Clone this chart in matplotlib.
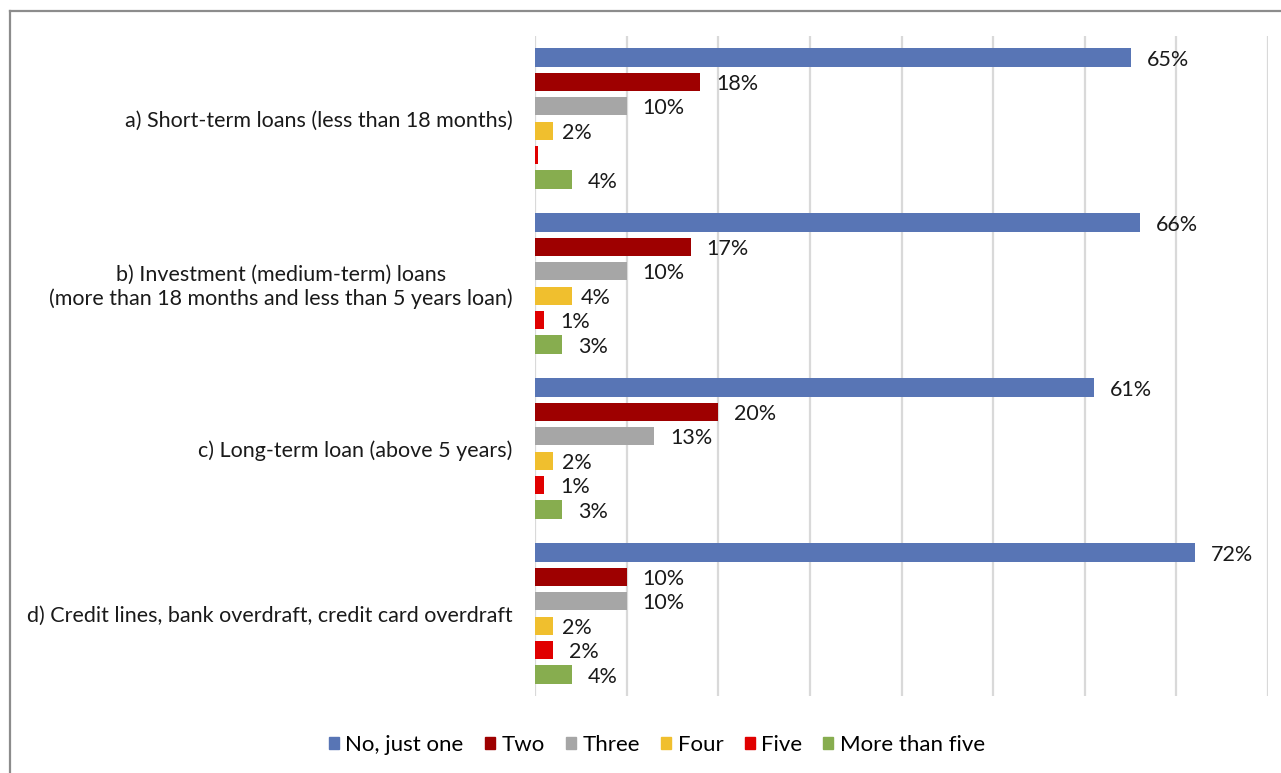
import matplotlib.pyplot as plt
from matplotlib.lines import Line2D
import numpy as np

plt.rcParams['font.family'] = ['Lato', 'DejaVu Sans']

categories = [
    'a) Short-term loans (less than 18 months)',
    'b) Investment (medium-term) loans\n(more than 18 months and less than 5 years loan)',
    'c) Long-term loan (above 5 years)',
    'd) Credit lines, bank overdraft, credit card overdraft',
]
series = ['No, just one', 'Two', 'Three', 'Four', 'Five', 'More than five']
colors = ['#5875B5', '#9E0000', '#A6A6A6', '#F0BF2E', '#E00000', '#87AD4F']

# percentages per series, one entry per category (a..d)
no_just_one = [65, 66, 61, 72]
two = [18, 17, 20, 10]
three = [10, 10, 13, 10]
four = [2, 4, 2, 2]
five = [0.3, 1, 1, 2]
more_than_five = [4, 3, 3, 4]
values = [no_just_one, two, three, four, five, more_than_five]

# label offsets in pixels (yellow labels sit closer to their bars)
label_pad = [16, 16, 16, 9, 16, 16]

fig = plt.figure(figsize=(12.81, 7.73), dpi=100)
ax = fig.add_axes([535 / 1281, 77 / 773, 733 / 1281, 660 / 773])

y = np.arange(len(categories))
slot = 0.148
bar_h = 0.111
for i, (name, vals, c) in enumerate(zip(series, values, colors)):
    pos = y + (i - 2.5) * slot
    ax.barh(pos, vals, height=bar_h, color=c, label=name, zorder=3)
    for p, v in zip(pos, vals):
        if v < 0.5:
            continue
        ax.annotate(f'{v:.0f}%', (v, p), xytext=(label_pad[i] * 0.72, -1.5),
                    textcoords='offset points', va='center', ha='left',
                    fontsize=15.5, color='#1a1a1a')

ax.set_xlim(0, 80)
ax.set_ylim(len(categories) - 0.5, -0.5)
ax.set_xticks(np.arange(0, 81, 10))
ax.xaxis.grid(True, color='#D9D9D9', linewidth=1.6, zorder=0)
ax.tick_params(axis='x', length=0, labelbottom=False)
ax.set_yticks(y)
ax.set_yticklabels(categories, fontsize=15.5, color='#1a1a1a', multialignment='center')
ax.tick_params(axis='y', length=0, pad=16)
for s in ax.spines.values():
    s.set_visible(False)

handles = [plt.Rectangle((0, 0), 1, 1, color=c) for c in colors]
fig.legend(handles, series, loc='center', bbox_to_anchor=(657 / 1281, 1 - 745 / 773),
           ncol=6, frameon=False, fontsize=16, handlelength=0.45, handleheight=0.45,
           handletextpad=0.3, columnspacing=0.95)

# outer chart frame (top and left edges)
fig.add_artist(Line2D([9.5 / 1281, 1], [1 - 11 / 773, 1 - 11 / 773], color='#8C8C8C', linewidth=1.6))
fig.add_artist(Line2D([9.5 / 1281, 9.5 / 1281], [0, 1 - 11 / 773], color='#8C8C8C', linewidth=1.6))

fig.savefig('out.png', dpi=100)
